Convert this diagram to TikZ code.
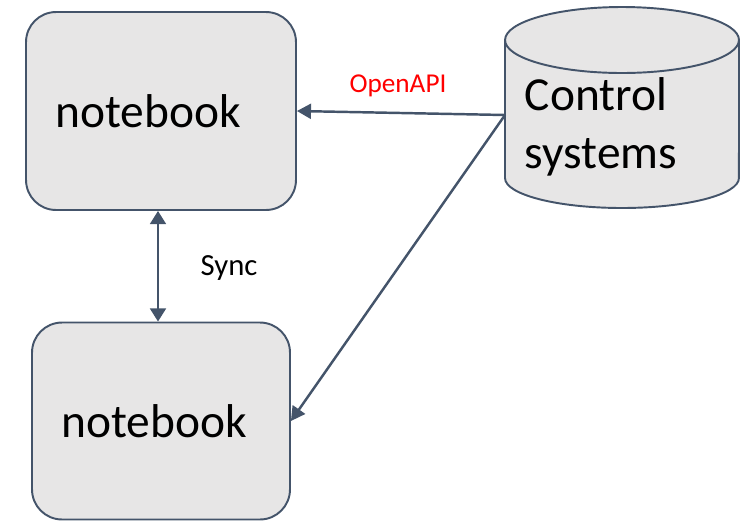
\documentclass[tikz,border=0pt]{standalone}
\usepackage{fontspec}
\setmainfont{Carlito}
\usetikzlibrary{arrows.meta,positioning}
\definecolor{BoxSlate}{RGB}{68,84,106}
\definecolor{BoxFill}{RGB}{231,230,230}

\tikzset{
  nbbox/.style={draw=BoxSlate,line width=1.1pt,fill=BoxFill,rounded corners=0.6cm,
    font=\fontsize{27}{32}\selectfont},
  link/.style={draw=BoxSlate,line width=1.4pt,-{Triangle[length=8pt,width=8.5pt]}},
}

\begin{document}
\begin{tikzpicture}[x=0.02cm,y=-0.02cm]
  \useasboundingbox (0,0) rectangle (748,522);
  \node[nbbox,minimum width=5.4cm,minimum height=3.96cm] (nb1) at (161,111) {notebook\kern0.52cm};
  \node[nbbox,minimum width=5.16cm,minimum height=3.94cm] (nb2) at (161,421) {notebook\kern0.28cm};
  % control systems cylinder
  \filldraw[draw=BoxSlate,line width=1.1pt,fill=BoxFill]
    (505,40) -- (505,178) arc[start angle=180,end angle=360,x radius=2.34cm,y radius=0.6cm]
    -- (739,40) arc[start angle=0,end angle=180,x radius=2.34cm,y radius=0.66cm] -- cycle;
  \draw[BoxSlate,line width=1.1pt] (505,40) arc[start angle=180,end angle=360,x radius=2.34cm,y radius=0.66cm];
  \node[align=left,font=\fontsize{27}{33}\selectfont,inner sep=0pt] (ctrl) at (601,127) {Control\\systems};
  \coordinate (ctrlside) at (505,115);
  % links
  \draw[link] (ctrlside) -- (nb1.east);
  \draw[link] (ctrlside) -- (nb2.east);
  \draw[draw=BoxSlate,line width=1.4pt,{Triangle[length=7.5pt,width=9pt]}-{Triangle[length=7.5pt,width=9pt]}]
    ([xshift=-0.06cm]nb1.south) -- ([xshift=-0.06cm]nb2.north);
  \node[text=red,font=\fontsize{15.5}{18}\selectfont] (api) at (398,86) {OpenAPI};
  \node[font=\fontsize{17.5}{20}\selectfont] (sync) at (229,268) {Sync};
\end{tikzpicture}
\end{document}
